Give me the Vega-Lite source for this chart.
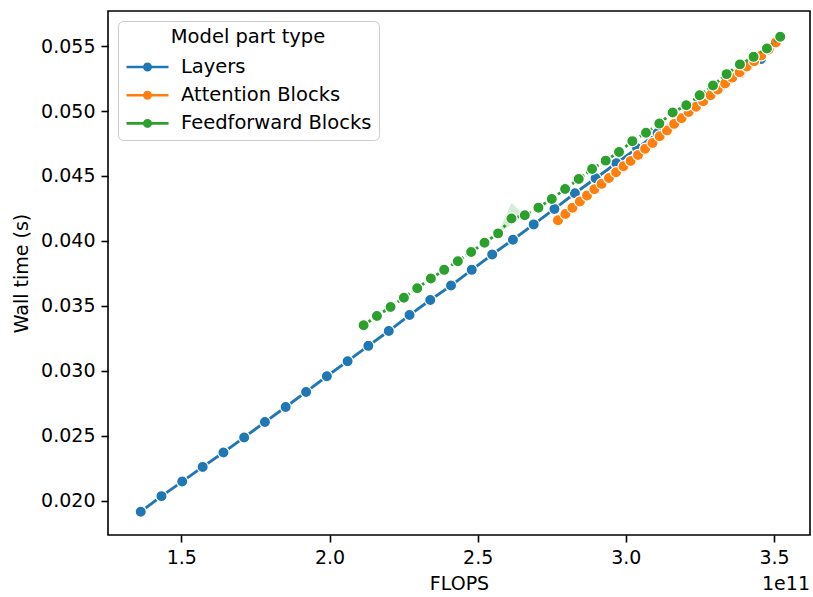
{
  "$schema": "https://vega.github.io/schema/vega-lite/v6.json",
  "width": 702,
  "height": 524,
  "autosize": {"type": "none"},
  "padding": {"left": 108, "top": 11, "right": 3, "bottom": 62},
  "background": "white",
  "config": {
    "font": "DejaVu Sans",
    "view": {"stroke": "black", "strokeWidth": 1.6},
    "axis": {
      "grid": false,
      "domain": false,
      "tickColor": "black",
      "tickWidth": 1.6,
      "tickSize": 7,
      "labelFont": "DejaVu Sans",
      "labelFontSize": 19,
      "labelColor": "black",
      "labelPadding": 6,
      "titleFont": "DejaVu Sans",
      "titleFontSize": 19,
      "titleFontWeight": "normal",
      "titleColor": "black"
    }
  },
  "title": {
    "text": "1e11",
    "orient": "bottom",
    "anchor": "end",
    "frame": "group",
    "font": "DejaVu Sans",
    "fontSize": 19,
    "fontWeight": "normal",
    "color": "black",
    "offset": -18
  },
  "datasets": {
    "main": [
      {"type": "Layers", "flops": 1.363e11, "time": 0.01915},
      {"type": "Layers", "flops": 1.433e11, "time": 0.02035},
      {"type": "Layers", "flops": 1.503e11, "time": 0.02147},
      {"type": "Layers", "flops": 1.572e11, "time": 0.02260},
      {"type": "Layers", "flops": 1.642e11, "time": 0.02371},
      {"type": "Layers", "flops": 1.712e11, "time": 0.02487},
      {"type": "Layers", "flops": 1.782e11, "time": 0.02605},
      {"type": "Layers", "flops": 1.852e11, "time": 0.02721},
      {"type": "Layers", "flops": 1.921e11, "time": 0.02837},
      {"type": "Layers", "flops": 1.991e11, "time": 0.02958},
      {"type": "Layers", "flops": 2.061e11, "time": 0.03074},
      {"type": "Layers", "flops": 2.131e11, "time": 0.03192},
      {"type": "Layers", "flops": 2.200e11, "time": 0.03306},
      {"type": "Layers", "flops": 2.270e11, "time": 0.03429},
      {"type": "Layers", "flops": 2.340e11, "time": 0.03545},
      {"type": "Layers", "flops": 2.410e11, "time": 0.03656},
      {"type": "Layers", "flops": 2.480e11, "time": 0.03777},
      {"type": "Layers", "flops": 2.549e11, "time": 0.03895},
      {"type": "Layers", "flops": 2.619e11, "time": 0.04009},
      {"type": "Layers", "flops": 2.689e11, "time": 0.04127},
      {"type": "Layers", "flops": 2.759e11, "time": 0.04246},
      {"type": "Layers", "flops": 2.828e11, "time": 0.04367},
      {"type": "Layers", "flops": 2.898e11, "time": 0.04482},
      {"type": "Layers", "flops": 2.968e11, "time": 0.04598},
      {"type": "Layers", "flops": 3.038e11, "time": 0.04714},
      {"type": "Layers", "flops": 3.107e11, "time": 0.04830},
      {"type": "Layers", "flops": 3.177e11, "time": 0.04946},
      {"type": "Layers", "flops": 3.247e11, "time": 0.05062},
      {"type": "Layers", "flops": 3.317e11, "time": 0.05178},
      {"type": "Layers", "flops": 3.387e11, "time": 0.05290},
      {"type": "Layers", "flops": 3.456e11, "time": 0.05400},
      {"type": "Attention Blocks", "flops": 2.771e11, "time": 0.04159},
      {"type": "Attention Blocks", "flops": 2.796e11, "time": 0.04207},
      {"type": "Attention Blocks", "flops": 2.820e11, "time": 0.04256},
      {"type": "Attention Blocks", "flops": 2.845e11, "time": 0.04304},
      {"type": "Attention Blocks", "flops": 2.869e11, "time": 0.04349},
      {"type": "Attention Blocks", "flops": 2.894e11, "time": 0.04397},
      {"type": "Attention Blocks", "flops": 2.918e11, "time": 0.04439},
      {"type": "Attention Blocks", "flops": 2.943e11, "time": 0.04484},
      {"type": "Attention Blocks", "flops": 2.967e11, "time": 0.04529},
      {"type": "Attention Blocks", "flops": 2.992e11, "time": 0.04574},
      {"type": "Attention Blocks", "flops": 3.016e11, "time": 0.04615},
      {"type": "Attention Blocks", "flops": 3.041e11, "time": 0.04662},
      {"type": "Attention Blocks", "flops": 3.065e11, "time": 0.04710},
      {"type": "Attention Blocks", "flops": 3.090e11, "time": 0.04754},
      {"type": "Attention Blocks", "flops": 3.114e11, "time": 0.04806},
      {"type": "Attention Blocks", "flops": 3.139e11, "time": 0.04851},
      {"type": "Attention Blocks", "flops": 3.163e11, "time": 0.04901},
      {"type": "Attention Blocks", "flops": 3.188e11, "time": 0.04945},
      {"type": "Attention Blocks", "flops": 3.212e11, "time": 0.04992},
      {"type": "Attention Blocks", "flops": 3.237e11, "time": 0.05033},
      {"type": "Attention Blocks", "flops": 3.261e11, "time": 0.05075},
      {"type": "Attention Blocks", "flops": 3.286e11, "time": 0.05121},
      {"type": "Attention Blocks", "flops": 3.310e11, "time": 0.05165},
      {"type": "Attention Blocks", "flops": 3.335e11, "time": 0.05212},
      {"type": "Attention Blocks", "flops": 3.359e11, "time": 0.05257},
      {"type": "Attention Blocks", "flops": 3.384e11, "time": 0.05299},
      {"type": "Attention Blocks", "flops": 3.408e11, "time": 0.05342},
      {"type": "Attention Blocks", "flops": 3.433e11, "time": 0.05384},
      {"type": "Attention Blocks", "flops": 3.457e11, "time": 0.05428},
      {"type": "Attention Blocks", "flops": 3.482e11, "time": 0.05473},
      {"type": "Attention Blocks", "flops": 3.506e11, "time": 0.05527},
      {"type": "Feedforward Blocks", "flops": 2.115e11, "time": 0.03350},
      {"type": "Feedforward Blocks", "flops": 2.160e11, "time": 0.03422},
      {"type": "Feedforward Blocks", "flops": 2.206e11, "time": 0.03491},
      {"type": "Feedforward Blocks", "flops": 2.251e11, "time": 0.03563},
      {"type": "Feedforward Blocks", "flops": 2.296e11, "time": 0.03636},
      {"type": "Feedforward Blocks", "flops": 2.342e11, "time": 0.03710},
      {"type": "Feedforward Blocks", "flops": 2.387e11, "time": 0.03777},
      {"type": "Feedforward Blocks", "flops": 2.433e11, "time": 0.03844},
      {"type": "Feedforward Blocks", "flops": 2.478e11, "time": 0.03914},
      {"type": "Feedforward Blocks", "flops": 2.523e11, "time": 0.03986},
      {"type": "Feedforward Blocks", "flops": 2.569e11, "time": 0.04058},
      {"type": "Feedforward Blocks", "flops": 2.614e11, "time": 0.04173},
      {"type": "Feedforward Blocks", "flops": 2.659e11, "time": 0.04197},
      {"type": "Feedforward Blocks", "flops": 2.705e11, "time": 0.04256},
      {"type": "Feedforward Blocks", "flops": 2.750e11, "time": 0.04323},
      {"type": "Feedforward Blocks", "flops": 2.795e11, "time": 0.04399},
      {"type": "Feedforward Blocks", "flops": 2.841e11, "time": 0.04476},
      {"type": "Feedforward Blocks", "flops": 2.886e11, "time": 0.04554},
      {"type": "Feedforward Blocks", "flops": 2.932e11, "time": 0.04618},
      {"type": "Feedforward Blocks", "flops": 2.977e11, "time": 0.04685},
      {"type": "Feedforward Blocks", "flops": 3.022e11, "time": 0.04768},
      {"type": "Feedforward Blocks", "flops": 3.068e11, "time": 0.04833},
      {"type": "Feedforward Blocks", "flops": 3.113e11, "time": 0.04903},
      {"type": "Feedforward Blocks", "flops": 3.158e11, "time": 0.04988},
      {"type": "Feedforward Blocks", "flops": 3.204e11, "time": 0.05044},
      {"type": "Feedforward Blocks", "flops": 3.249e11, "time": 0.05121},
      {"type": "Feedforward Blocks", "flops": 3.294e11, "time": 0.05196},
      {"type": "Feedforward Blocks", "flops": 3.340e11, "time": 0.05284},
      {"type": "Feedforward Blocks", "flops": 3.385e11, "time": 0.05359},
      {"type": "Feedforward Blocks", "flops": 3.431e11, "time": 0.05417},
      {"type": "Feedforward Blocks", "flops": 3.476e11, "time": 0.05482},
      {"type": "Feedforward Blocks", "flops": 3.521e11, "time": 0.05572}
    ],
    "band": [
      {"flops": 2.569e11, "lo": 0.04058, "hi": 0.04058},
      {"flops": 2.614e11, "lo": 0.04125, "hi": 0.04292},
      {"flops": 2.659e11, "lo": 0.04197, "hi": 0.04197}
    ]
  },
  "data": {"name": "main"},
  "encoding": {
    "x": {
      "field": "flops",
      "type": "quantitative",
      "scale": {"domain": [1.2525e11, 3.6214e11], "nice": false, "zero": false},
      "axis": {
        "title": "FLOPS",
        "values": [1.5e11, 2.0e11, 2.5e11, 3.0e11, 3.5e11],
        "labelExpr": "format(datum.value / 1e11, '.1f')",
        "titlePadding": 7
      }
    },
    "y": {
      "field": "time",
      "type": "quantitative",
      "scale": {"domain": [0.017357, 0.0577], "nice": false, "zero": false},
      "axis": {
        "title": "Wall time (s)",
        "values": [0.02, 0.025, 0.03, 0.035, 0.04, 0.045, 0.05, 0.055],
        "format": ".3f",
        "titlePadding": 9
      }
    }
  },
  "layer": [
    {
      "transform": [{"filter": "datum.type === 'Layers'"}],
      "mark": {"type": "line", "strokeWidth": 2.9},
      "encoding": {
        "color": {
          "field": "type",
          "type": "nominal",
          "scale": {
            "domain": ["Layers", "Attention Blocks", "Feedforward Blocks"],
            "range": ["#1f77b4", "#ff7f0e", "#2ca02c"]
          },
          "legend": {
            "title": "Model part type",
            "orient": "top-left",
            "offset": 10,
            "padding": 7,
            "cornerRadius": 5,
            "strokeColor": "#cccccc",
            "fillColor": "rgba(255,255,255,0.8)",
            "titleFont": "DejaVu Sans",
            "titleFontSize": 19.5,
            "titleFontWeight": "normal",
            "titleColor": "black",
            "titleAnchor": "middle",
            "titleAlign": "center",
            "titlePadding": 8,
            "labelFont": "DejaVu Sans",
            "labelFontSize": 19.5,
            "labelColor": "black",
            "labelLimit": 0,
            "symbolType": "M-2.1,0H2.1M-0.32,0A0.32,0.32,0,1,0,0.32,0A0.32,0.32,0,1,0,-0.32,0",
            "symbolSize": 400,
            "symbolStrokeWidth": 2.6,
            "symbolOffset": 11,
            "labelOffset": 22,
            "rowPadding": 7.2,
            "symbolOpacity": 1,
            "encode": {
              "symbols": {
                "update": {
                  "fill": {"scale": "color", "field": "value"},
                  "stroke": {"scale": "color", "field": "value"}
                }
              }
            }
          }
        }
      }
    },
    {
      "transform": [{"filter": "datum.type === 'Layers'"}],
      "mark": {"type": "point", "shape": "circle", "filled": true, "size": 125, "opacity": 1, "stroke": "white", "strokeWidth": 1.2},
      "encoding": {"color": {"field": "type", "type": "nominal"}}
    },
    {
      "transform": [{"filter": "datum.type === 'Attention Blocks'"}],
      "mark": {"type": "line", "strokeWidth": 2.9, "strokeDash": [11.8, 4.4]},
      "encoding": {"color": {"field": "type", "type": "nominal"}}
    },
    {
      "transform": [{"filter": "datum.type === 'Attention Blocks'"}],
      "mark": {"type": "point", "shape": "circle", "filled": true, "size": 125, "opacity": 1, "stroke": "white", "strokeWidth": 1.2},
      "encoding": {"color": {"field": "type", "type": "nominal"}}
    },
    {
      "data": {"name": "band"},
      "mark": {"type": "area", "color": "#2ca02c", "opacity": 0.2},
      "encoding": {
        "y": {"field": "lo", "type": "quantitative"},
        "y2": {"field": "hi"}
      }
    },
    {
      "transform": [{"filter": "datum.type === 'Feedforward Blocks'"}],
      "mark": {"type": "line", "strokeWidth": 2.9, "strokeDash": [2.95, 2.95]},
      "encoding": {"color": {"field": "type", "type": "nominal"}}
    },
    {
      "transform": [{"filter": "datum.type === 'Feedforward Blocks'"}],
      "mark": {"type": "point", "shape": "circle", "filled": true, "size": 125, "opacity": 1, "stroke": "white", "strokeWidth": 1.2},
      "encoding": {"color": {"field": "type", "type": "nominal"}}
    }
  ]
}
